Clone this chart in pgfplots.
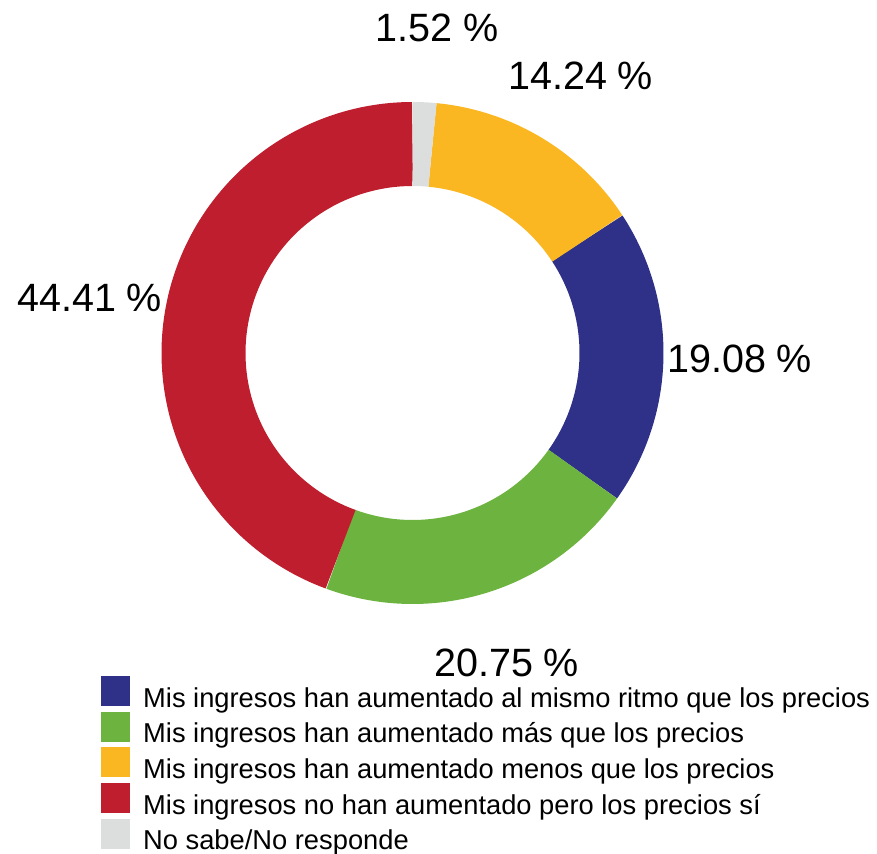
\documentclass[border=0pt]{standalone}
\usepackage{pgfplots}
\usepackage{pgfplotstable}
\pgfplotsset{compat=1.18}
\usepackage{fontspec}
\setmainfont{Liberation Sans}

\definecolor{cblue}{RGB}{46,49,135}
\definecolor{cgreen}{RGB}{109,179,63}
\definecolor{cyellow}{RGB}{251,183,33}
\definecolor{cred}{RGB}{190,30,45}
\definecolor{cgray}{RGB}{220,221,221}

% shares in %, clockwise from 12 o'clock
\pgfplotstableread{
pct
1.52
14.24
19.08
20.75
44.41
}\slices
\pgfplotstablegetelem{0}{pct}\of\slices \let\pNS\pgfplotsretval
\pgfplotstablegetelem{1}{pct}\of\slices \let\pMenos\pgfplotsretval
\pgfplotstablegetelem{2}{pct}\of\slices \let\pIgual\pgfplotsretval
\pgfplotstablegetelem{3}{pct}\of\slices \let\pMas\pgfplotsretval
\pgfplotstablegetelem{4}{pct}\of\slices \let\pNo\pgfplotsretval
% boundary angles (degrees)
\pgfmathsetmacro\aA{90}
\pgfmathsetmacro\aB{\aA-3.6*\pNS}
\pgfmathsetmacro\aC{\aB-3.6*\pMenos}
\pgfmathsetmacro\aD{\aC-3.6*\pIgual}
\pgfmathsetmacro\aE{\aD-3.6*\pMas}
\pgfmathsetmacro\aF{\aE-3.6*\pNo}
\def\cx{412.5}\def\cy{501}\def\rm{209}

\begin{document}
\begin{tikzpicture}
\begin{axis}[
    x=1bp, y=1bp,
    xmin=0, xmax=877, ymin=0, ymax=854,
    hide axis, clip=false,
    every axis plot/.append style={line width=84bp, no marks, samples=120},
    legend image code/.code={\fill[#1, draw=none] (0bp,-6bp) rectangle (29bp,24bp);},
    legend cell align=left,
    legend style={at={(axis cs:101,178)}, anchor=north west, draw=none, fill=none,
        inner sep=0pt, row sep=-1.4bp,
        font=\fontsize{27.3bp}{28bp}\selectfont,
        nodes={inner sep=0pt, text height=20bp, text depth=6bp},
        /tikz/every odd column/.append style={column sep=13bp}},
]
\coordinate (bl) at (axis cs:0,0);
\coordinate (tr) at (axis cs:877,854);
\addplot[cblue, domain=\aD:\aC] ({\cx+\rm*cos(x)},{\cy+\rm*sin(x)});
\addlegendentry{Mis ingresos han aumentado al mismo ritmo que los precios}
\addplot[cgreen, domain=\aE:\aD] ({\cx+\rm*cos(x)},{\cy+\rm*sin(x)});
\addlegendentry{Mis ingresos han aumentado más que los precios}
\addplot[cyellow, domain=\aC:\aB] ({\cx+\rm*cos(x)},{\cy+\rm*sin(x)});
\addlegendentry{Mis ingresos han aumentado menos que los precios}
\addplot[cred, domain=\aF:\aE] ({\cx+\rm*cos(x)},{\cy+\rm*sin(x)});
\addlegendentry{Mis ingresos no han aumentado pero los precios sí}
\addplot[cgray, domain=\aB:\aA] ({\cx+\rm*cos(x)},{\cy+\rm*sin(x)});
\addlegendentry{No sabe/No responde}

\begin{scope}[every node/.style={anchor=base west, inner sep=0pt,
    font=\fontsize{39.5bp}{40bp}\selectfont}]
\node at (axis cs:375,812) {1.52 \%};
\node at (axis cs:508,764) {14.24 \%};
\node at (axis cs:667,481) {19.08 \%};
\node at (axis cs:434,177) {20.75 \%};
\node at (axis cs:17,542) {44.41 \%};
\end{scope}
\end{axis}
\pgfresetboundingbox
\path[use as bounding box] (bl) rectangle (tr);
\end{tikzpicture}
\end{document}
